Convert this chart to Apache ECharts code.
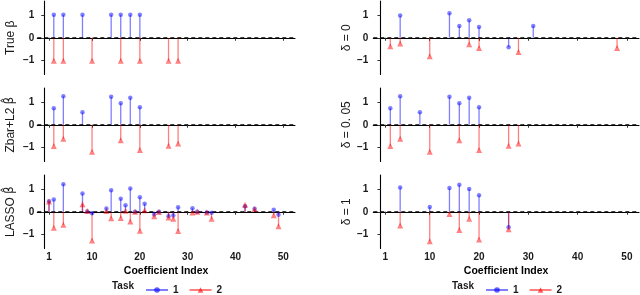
<!DOCTYPE html>
<html><head><meta charset="utf-8">
<script src="https://cdn.jsdelivr.net/npm/echarts@6/dist/echarts.min.js"></script>
<style>html,body{margin:0;padding:0;background:#fff}#c{width:640px;height:295px}</style>
</head><body><div id="c"></div>
<script>
// ---- data ----
const xTicks = [1, 10, 20, 30, 40, 50];
const yTicks = [-1, 0, 1];
const refLine = [0];
const panelTitles = ['True β', 'Zbar+L2 {h|β\u0302}', 'LASSO {h|β\u0302}', 'δ = 0', 'δ = 0. 05', 'δ = 1'];
const taskNames = ['1', '2'];

const trueIdx1 = [2, 4, 8, 14, 16, 18, 20];
const trueVal1 = [1, 1, 1, 1, 1, 1, 1];
const trueIdx2 = [2, 4, 10, 16, 20, 26, 28];
const trueVal2 = [-1, -1, -1, -1, -1, -1, -1];

const zbarIdx1 = [2, 4, 8, 14, 16, 18, 20];
const zbarVal1 = [0.72, 1.24, 0.54, 1.22, 0.94, 1.18, 0.76];
const zbarIdx2 = [2, 4, 10, 16, 20, 26, 28];
const zbarVal2 = [-0.92, -0.61, -1.18, -0.68, -1.10, -0.91, -0.82];

const lassoIdx1 = [1, 2, 4, 8, 9, 10, 13, 14, 16, 17, 18, 19, 20, 21, 23, 24, 26, 27, 28, 31, 32, 34, 35, 42, 44, 48, 49];
const lassoVal1 = [0.46, 0.53, 1.2, 0.79, 0.01, -0.07, 0.14, 0.94, 0.57, 0.28, 1.01, 0.0, 0.63, 0.35, -0.12, 0.0, -0.2, -0.16, 0.2, 0.15, 0.0, -0.03, -0.04, 0.24, 0.13, 0.09, -0.13];
const lassoIdx2 = [1, 2, 4, 8, 9, 10, 13, 14, 16, 17, 18, 19, 20, 21, 23, 24, 26, 27, 28, 31, 32, 34, 35, 42, 44, 48, 49];
const lassoVal2 = [0.45, -0.7, -0.57, 0.33, 0.03, -1.25, 0.03, -0.28, -0.27, 0.04, -0.42, 0.0, -0.83, 0.06, -0.2, -0.01, -0.25, -0.31, -0.84, -0.03, 0.0, -0.03, -0.31, 0.3, 0.12, -0.15, -0.63];

const d0Idx1 = [4, 14, 16, 18, 20, 26, 31];
const d0Val1 = [0.97, 1.07, 0.51, 0.76, 0.47, -0.41, 0.51];
const d0Idx2 = [2, 4, 10, 18, 20, 28, 48];
const d0Val2 = [-0.37, -0.25, -0.8, -0.28, -0.45, -0.62, -0.45];

const d005Idx1 = [2, 4, 8, 14, 16, 18, 20];
const d005Val1 = [0.72, 1.24, 0.54, 1.22, 0.94, 1.18, 0.76];
const d005Idx2 = [2, 4, 10, 16, 20, 26, 28];
const d005Val2 = [-0.92, -0.61, -1.18, -0.68, -1.10, -0.91, -0.82];

const d1Idx1 = [4, 10, 14, 16, 18, 20, 26];
const d1Val1 = [1.06, 0.21, 1.03, 1.18, 0.99, 0.72, -0.68];
const d1Idx2 = [4, 10, 14, 16, 18, 20, 26];
const d1Val2 = [-0.6, -1.28, -0.1, -0.79, -0.31, -1.21, -0.76];

// ---- build ----
const panels = [
  [trueIdx1, trueVal1, trueIdx2, trueVal2],
  [zbarIdx1, zbarVal1, zbarIdx2, zbarVal2],
  [lassoIdx1, lassoVal1, lassoIdx2, lassoVal2],
  [d0Idx1, d0Val1, d0Idx2, d0Val2],
  [d005Idx1, d005Val1, d005Idx2, d005Val2],
  [d1Idx1, d1Val1, d1Idx2, d1Val2]
];
const FONT = '"Liberation Sans", Arial, Helvetica, sans-serif';
const BLUE_L = 'rgba(0,0,255,0.5)', BLUE_P = 'rgba(0,0,255,0.62)';
const RED_L = 'rgba(255,0,0,0.5)', RED_P = 'rgba(255,0,0,0.62)';
const tops = [1, 88, 175];
const colLeft = [37.3, 373.3];
const colWidth = [257.7, 265.7];
const panelH = 73.5;

const grid = [], xAxis = [], yAxis = [], series = [];
// legend carrier series (empty)
series.push({type: 'line', name: taskNames[0], data: [], symbol: 'circle', symbolSize: 5,
  lineStyle: {color: BLUE_L, width: 1.3}, itemStyle: {color: BLUE_P}, xAxisIndex: 0, yAxisIndex: 0});
series.push({type: 'line', name: taskNames[1], data: [], symbol: 'triangle', symbolSize: 6,
  lineStyle: {color: RED_L, width: 1.3}, itemStyle: {color: RED_P}, xAxisIndex: 0, yAxisIndex: 0});

function stemRender(color) {
  return function (params, api) {
    const x = api.value(0), v = api.value(1);
    const p0 = api.coord([x, 0]);
    const p1 = api.coord([x, v]);
    return {type: 'line', shape: {x1: p0[0], y1: p0[1], x2: p1[0], y2: p1[1]},
      style: {stroke: color, lineWidth: 1.3}};
  };
}
function hlineRender(params, api) {
  const cs = params.coordSys;
  const y = api.coord([api.value(0), api.value(1)])[1];
  return {type: 'line', shape: {x1: cs.x, y1: y, x2: cs.x + cs.width, y2: y},
    style: {stroke: '#000', lineWidth: 1.2, lineDash: [4, 3]}};
}

panels.forEach((p, k) => {
  const col = k < 3 ? 0 : 1, row = k % 3;
  const bottom = row === 2;
  grid.push({left: colLeft[col], top: tops[row], width: colWidth[col], height: panelH});
  xAxis.push({
    gridIndex: k, type: 'value', min: -1.45, max: 52.45,
    axisLine: {show: true, lineStyle: {color: '#000', width: 1.1}},
    axisTick: {show: true, customValues: xTicks, length: 3, lineStyle: {color: '#333', width: 1}},
    axisLabel: {show: bottom, customValues: xTicks, margin: 4, fontFamily: FONT, fontSize: 10, fontWeight: 'bold', color: '#1a1a1a'},
    splitLine: {show: false},
    name: bottom ? 'Coefficient Index' : '', nameLocation: 'middle', nameGap: 17,
    nameTextStyle: {fontFamily: FONT, fontSize: 10.5, fontWeight: 'bold', color: '#000'}
  });
  yAxis.push({
    gridIndex: k, type: 'value', min: -1.6, max: 1.6,
    axisLine: {show: true, lineStyle: {color: '#000', width: 1.1}},
    axisTick: {show: true, customValues: yTicks, length: 3, lineStyle: {color: '#333', width: 1}},
    axisLabel: {customValues: yTicks, margin: col === 0 ? 3 : 5, fontFamily: FONT, fontSize: 10, fontWeight: 'bold', color: '#1a1a1a',
      formatter: v => (v < 0 ? '\u2212' + Math.abs(v) : String(v))},
    splitLine: {show: false},
    name: panelTitles[k], nameLocation: 'middle', nameRotate: 90, nameGap: col === 0 ? 21 : 18,
    nameTextStyle: {fontFamily: FONT, fontSize: 12, color: '#1a1a1a',
      rich: {h: {fontFamily: '"DejaVu Sans", sans-serif', fontSize: 11.5, color: '#1a1a1a'}}}
  });
  const d1 = p[0].map((x, i) => [x, p[1][i]]);
  const d2 = p[2].map((x, i) => [x, p[3][i]]);
  series.push({type: 'custom', name: taskNames[0], xAxisIndex: k, yAxisIndex: k, data: d1,
    encode: {x: 0, y: 1}, renderItem: stemRender(BLUE_L), z: 2, silent: true});
  series.push({type: 'custom', name: taskNames[1], xAxisIndex: k, yAxisIndex: k, data: d2,
    encode: {x: 0, y: 1}, renderItem: stemRender(RED_L), z: 2, silent: true});
  series.push({type: 'custom', name: 'zero', xAxisIndex: k, yAxisIndex: k,
    data: refLine.map(v => [xTicks[0], v]), encode: {x: 0, y: 1},
    renderItem: hlineRender, z: 3, silent: true});
  series.push({type: 'scatter', name: taskNames[0], xAxisIndex: k, yAxisIndex: k, data: d1,
    symbol: 'circle', symbolSize: 4.5, itemStyle: {color: BLUE_P}, z: 4, silent: true});
  series.push({type: 'scatter', name: taskNames[1], xAxisIndex: k, yAxisIndex: k, data: d2,
    symbol: 'triangle', symbolSize: 6, itemStyle: {color: RED_P}, z: 4, silent: true});
});

const legendCommon = {data: taskNames, top: 280, itemWidth: 22, itemHeight: 7, itemGap: 10,
  selectedMode: false, textStyle: {fontFamily: FONT, fontSize: 10, fontWeight: 'bold', color: '#1a1a1a'}};

const chart = echarts.init(document.getElementById('c'), null, {renderer: 'canvas'});
chart.setOption({
  animation: false,
  backgroundColor: '#fff',
  grid, xAxis, yAxis, series,
  legend: [Object.assign({left: 140}, legendCommon), Object.assign({left: 480}, legendCommon)],
  graphic: [
    {type: 'text', left: 112, top: 281, style: {text: 'Task', font: 'bold 10px ' + FONT, fill: '#1a1a1a'}},
    {type: 'text', left: 452, top: 281, style: {text: 'Task', font: 'bold 10px ' + FONT, fill: '#1a1a1a'}}
  ]
});
</script></body></html>
